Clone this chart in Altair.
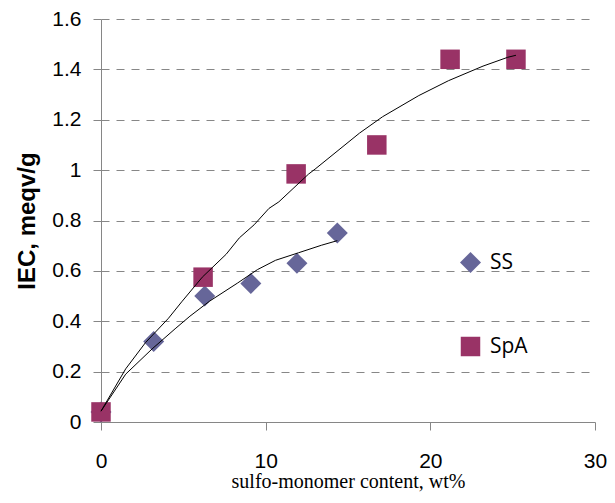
import altair as alt
import pandas as pd

# measured data
ss_x = [0, 3.2, 6.3, 9.1, 11.9, 14.35]
ss_y = [0.04, 0.32, 0.50, 0.55, 0.63, 0.75]
spa_x = [0, 6.2, 11.85, 16.75, 21.2, 25.2]
spa_y = [0.04, 0.575, 0.985, 1.10, 1.44, 1.44]

# trend lines
ss_tx = [0, 1.5, 3.1, 4.5, 5.4, 6.6, 8.3, 9.5, 10.6, 12.0, 13.4, 14.35]
ss_ty = [0.043, 0.19, 0.29, 0.37, 0.42, 0.48, 0.552, 0.605, 0.642, 0.672, 0.702, 0.72]
spa_tx = [0, 1.5, 2.7, 4.1, 4.9, 6.15, 7.6, 8.4, 9.3, 10.2, 10.8, 12.6, 13.0, 15.7, 17.1, 19.3, 21.1, 23.2, 24.7, 25.2]
spa_ty = [0.043, 0.211, 0.315, 0.412, 0.477, 0.575, 0.666, 0.731, 0.783, 0.848, 0.874, 0.984, 1.004, 1.147, 1.212, 1.296, 1.355, 1.413, 1.448, 1.456]

series = ["SS", "SpA"]
colors = ["#666699", "#993366"]
shapes = ["diamond", "square"]
y_ticks = [0, 0.2, 0.4, 0.6, 0.8, 1.0, 1.2, 1.4, 1.6]
x_ticks = [0, 10, 20, 30]

pts = pd.DataFrame({
    "x": ss_x + spa_x,
    "y": ss_y + spa_y,
    "series": ["SS"] * len(ss_x) + ["SpA"] * len(spa_x),
})
trend = pd.DataFrame({
    "x": ss_tx + spa_tx,
    "y": ss_ty + spa_ty,
    "series": ["SS"] * len(ss_tx) + ["SpA"] * len(spa_tx),
})

x_enc = alt.X("x:Q", scale=alt.Scale(domain=[0, 30], nice=False),
              axis=alt.Axis(values=x_ticks, title="sulfo-monomer content, wt%", grid=False,
                            tickSize=8, labelPadding=20, titlePadding=0, labelFlush=False,
                            titleFont="Liberation Serif", titleFontSize=20,
                            titleFontWeight="normal"))
y_enc = alt.Y("y:Q", scale=alt.Scale(domain=[0, 1.6], nice=False),
              axis=alt.Axis(values=y_ticks, format="~g", title="IEC, meqv/g", grid=True,
                            gridDash=[8, 7], gridColor="#878787", gridWidth=1,
                            tickSize=8, labelPadding=12, titlePadding=12, labelFlush=False,
                            titleFont="Liberation Sans", titleFontSize=24,
                            titleFontWeight="bold"))

legend = alt.Legend(title=None, orient="none", legendX=359, legendY=233,
                    labelFontSize=21, labelFont="Open Sans",
                    labelColor="black", symbolSize=260,
                    rowPadding=62, labelOffset=9, padding=0,
                    symbolStrokeWidth=0)

points = alt.Chart(pts).mark_point(filled=True, opacity=1, strokeWidth=0).encode(
    x=x_enc,
    y=y_enc,
    color=alt.Color("series:N", scale=alt.Scale(domain=series, range=colors), legend=legend),
    shape=alt.Shape("series:N", scale=alt.Scale(domain=series, range=shapes), legend=legend),
    size=alt.Size("series:N", scale=alt.Scale(domain=series, range=[441, 380]), legend=None),
    order=alt.Order("sortkey:Q"),
).transform_calculate(sortkey="datum.series == 'SS' ? 0 : 1")

lines = alt.Chart(trend).mark_line(color="black", strokeWidth=1).encode(
    x="x:Q",
    y="y:Q",
    detail="series:N",
    order="x:Q",
)

chart = alt.layer(points, lines).properties(
    width=494, height=403,
    autosize=alt.AutoSizeParams(type="none"),
    padding={"left": 93, "top": 11, "right": 12, "bottom": 73},
).configure_view(stroke=None).configure_axis(
    domainColor="#868686", tickColor="#868686", labelFont="Liberation Sans",
    labelFontSize=21, labelColor="black", titleColor="black",
)

chart.save("out.html", embed_options={"renderer": "svg", "actions": False})
